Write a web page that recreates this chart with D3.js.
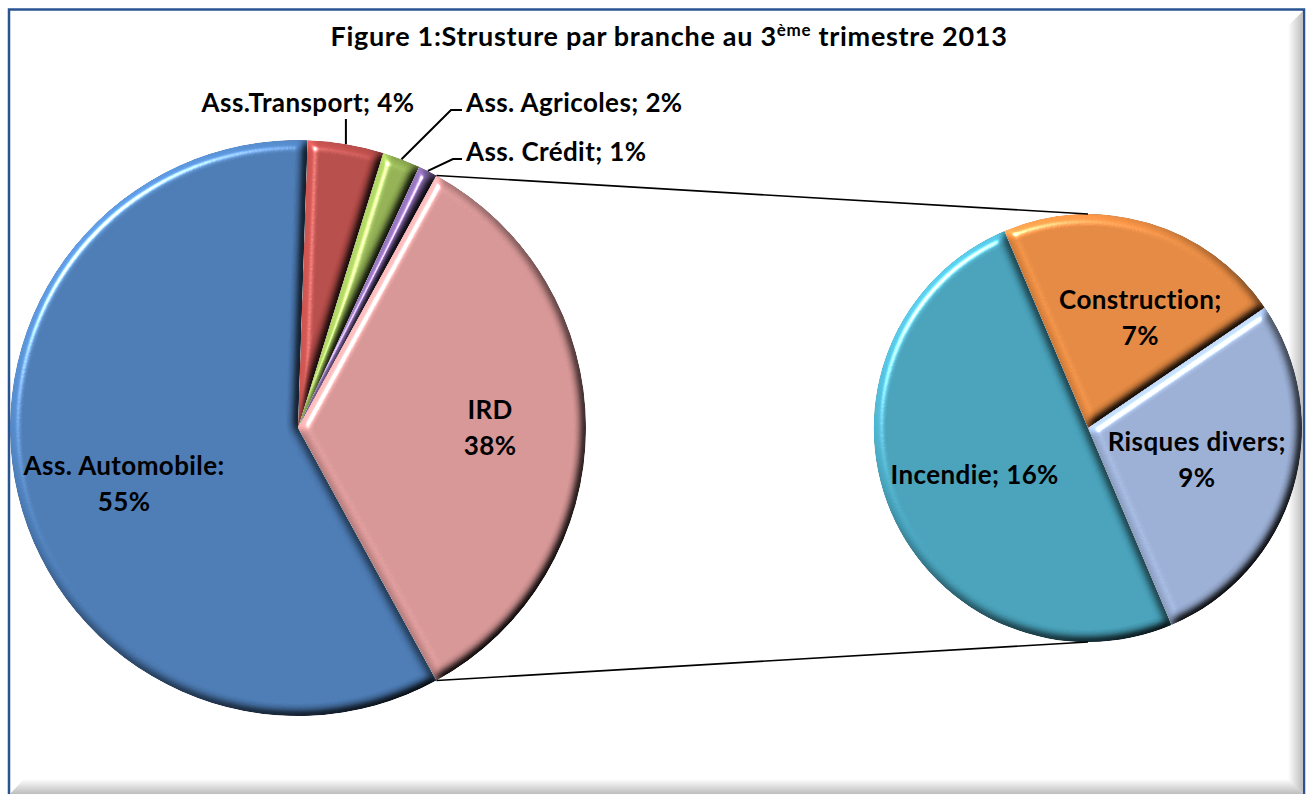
<!DOCTYPE html>
<html>
<head>
<meta charset="utf-8">
<script src="https://cdn.jsdelivr.net/npm/d3@7"></script>
<style>
html,body{margin:0;padding:0;background:#fff;}
svg{display:block;}
text{font-family:Lato,"Open Sans",sans-serif;font-weight:700;fill:#000;}
</style>
</head>
<body>
<svg id="chart" width="1308" height="794"></svg>
<script>
// ---- data ----
const mainCategories = ["Ass.Transport", "Ass. Agricoles", "Ass. Crédit", "IRD", "Ass. Automobile"];
const mainValues     = [4, 2, 1, null, 55];           // IRD = sum of the secondary pie
const mainLabels     = ["Ass.Transport; 4%", "Ass. Agricoles; 2%", "Ass. Crédit; 1%", ["IRD", "38%"], ["Ass. Automobile:", "55%"]];
const subCategories  = ["Construction", "Risques divers", "Incendie"];
const subValues      = [7, 9, 16];
const subLabels      = [["Construction;", "7%"], ["Risques divers;", "9%"], ["Incendie; 16%"]];
const mainColors     = ["#C0504D", "#9BBB59", "#8064A2", "#E39E9E", "#4F81BD"];
const subColors      = ["#F09045", "#A3B8E0", "#4BAAC4"];
const titleParts     = ["Figure 1:Strusture par branche au 3", "ème", " trimestre 2013"];

const W = 1308, H = 794;
const svg = d3.select("#chart");
const defs = svg.append("defs");

// bevel filter
const f = defs.append("filter").attr("id","bevel")
  .attr("x","-5%").attr("y","-5%").attr("width","110%").attr("height","110%")
  .attr("color-interpolation-filters","sRGB");
f.append("feGaussianBlur").attr("in","SourceAlpha").attr("stdDeviation",5).attr("result","blur");
const dl = f.append("feDiffuseLighting").attr("in","blur").attr("surfaceScale",6)
  .attr("diffuseConstant",1).attr("lighting-color","#fff").attr("result","diff");
dl.append("feDistantLight").attr("azimuth",225).attr("elevation",50);
f.append("feComposite").attr("in","SourceGraphic").attr("in2","diff").attr("operator","arithmetic")
  .attr("k1",1.22).attr("k2",0).attr("k3",0).attr("k4",0).attr("result","lit");
const sl = f.append("feSpecularLighting").attr("in","blur").attr("surfaceScale",6)
  .attr("specularConstant",0.8).attr("specularExponent",60).attr("lighting-color","#fff").attr("result","spec");
sl.append("feDistantLight").attr("azimuth",225).attr("elevation",50);
f.append("feComposite").attr("in","spec").attr("in2","SourceAlpha").attr("operator","in").attr("result","specIn");
f.append("feComposite").attr("in","lit").attr("in2","specIn").attr("operator","arithmetic")
  .attr("k1",0).attr("k2",1).attr("k3",1).attr("k4",0).attr("result","sum");
f.append("feComposite").attr("in","sum").attr("in2","SourceAlpha").attr("operator","in");

// frame gradients
const gR = defs.append("linearGradient").attr("id","gR").attr("x1",0).attr("x2",1).attr("y1",0).attr("y2",0);
gR.append("stop").attr("offset",0).attr("stop-color","#ffffff");
gR.append("stop").attr("offset",1).attr("stop-color","#bdbdbd");
const gB = defs.append("linearGradient").attr("id","gB").attr("x1",0).attr("x2",0).attr("y1",0).attr("y2",1);
gB.append("stop").attr("offset",0).attr("stop-color","#ffffff");
gB.append("stop").attr("offset",1).attr("stop-color","#bdbdbd");

// frame
svg.append("rect").attr("x",9).attr("y",9.5).attr("width",1295).attr("height",800)
  .attr("fill","#fff").attr("stroke","#2A5491").attr("stroke-width",2.5);
svg.append("polygon").attr("points","1288,26 1303,11 1303,794 1288,780").attr("fill","url(#gR)");
svg.append("polygon").attr("points","24,779 1288,779 1303,794 10,794").attr("fill","url(#gB)");

// title
const title = svg.append("text").attr("x", W/2 + 15).attr("y", 46).attr("text-anchor","middle")
  .style("font-size","27px").style("letter-spacing","0.7px");
title.append("tspan").text(titleParts[0]);
title.append("tspan").attr("dy",-10).style("font-size","17px").text(titleParts[1]);
title.append("tspan").attr("dy",10).text(titleParts[2]);

// ---- main pie ----
const subTotal = d3.sum(subValues);
const mVals = mainValues.map(v => v === null ? subTotal : v);
const total = d3.sum(mVals);
const iIRD = 3;
// rotate so the "other" slice is centred on 3 o'clock (as Excel does)
const before = d3.sum(mVals.slice(0, iIRD)) / total * 2 * Math.PI;
const irdSpan = mVals[iIRD] / total * 2 * Math.PI;
const start = Math.PI/2 - irdSpan/2 - before;

const m = {cx: 298, cy: 428, r: 288};
const s = {cx: 1088, cy: 428, r: 214};

const pieMain = d3.pie().sort(null).value(d => d).startAngle(start).endAngle(start + 2*Math.PI);
const arcsMain = pieMain(mVals);
const arcM = d3.arc().innerRadius(0).outerRadius(m.r);

const gm = svg.append("g").attr("transform",`translate(${m.cx},${m.cy})`);
gm.selectAll("path").data(arcsMain).join("path")
  .attr("d", arcM).attr("fill",(d,i)=>mainColors[i]).attr("filter","url(#bevel)");

// ---- secondary pie ----
const subStart = -23 * Math.PI/180;
const pieSub = d3.pie().sort(null).value(d => d).startAngle(subStart).endAngle(subStart + 2*Math.PI);
const arcsSub = pieSub(subValues);
const arcS = d3.arc().innerRadius(0).outerRadius(s.r);
const gs = svg.append("g").attr("transform",`translate(${s.cx},${s.cy})`);
gs.selectAll("path").data(arcsSub).join("path")
  .attr("d", arcS).attr("fill",(d,i)=>subColors[i]).attr("filter","url(#bevel)");

// ---- connector lines ----
const pol = (c, a, r) => [c.cx + r*Math.sin(a), c.cy - r*Math.cos(a)];
const ird = arcsMain[iIRD];
const p1 = pol(m, ird.startAngle, m.r), p2 = pol(m, ird.endAngle, m.r);
svg.append("line").attr("x1",p1[0]).attr("y1",p1[1]).attr("x2",s.cx).attr("y2",s.cy - s.r)
  .attr("stroke","#000").attr("stroke-width",1.6);
svg.append("line").attr("x1",p2[0]).attr("y1",p2[1]).attr("x2",s.cx).attr("y2",s.cy + s.r)
  .attr("stroke","#000").attr("stroke-width",1.6);

// ---- labels ----
const FS = 26;
function multi(x, y, lines, anchor){
  const arr = Array.isArray(lines) ? lines : [lines];
  const lh = 36;
  const t = svg.append("text").attr("text-anchor", anchor || "middle")
    .style("font-size", FS + "px").style("letter-spacing","0.4px");
  arr.forEach((ln, k) => {
    t.append("tspan").attr("x", x).attr("y", y + (k - (arr.length-1)/2) * lh + FS*0.35).text(ln);
  });
}
const mid = d => (d.startAngle + d.endAngle)/2;
// inside labels: radius fraction + nudge
const insideMain = {3: {f: 0.667, dx: 0, dy: 0}, 4: {f: 0.635, dx: 4, dy: 14}};
Object.entries(insideMain).forEach(([i, o]) => {
  const p = pol(m, mid(arcsMain[i]), m.r * o.f);
  multi(p[0] + o.dx, p[1] + o.dy, mainLabels[i]);
});
const insideSub = [{f: 0.57, dx: 18, dy: 7}, {f: 0.53, dx: 0, dy: 0}, {f: 0.56, dx: -3, dy: 0}];
arcsSub.forEach((d, i) => {
  const o = insideSub[i];
  const p = pol(s, mid(d), s.r * o.f);
  multi(p[0] + o.dx, p[1] + o.dy, subLabels[i]);
});

// outside labels with leader lines (Transport, Agricoles, Crédit)
const lead = d3.line();
{ // Transport
  const e = pol(m, mid(arcsMain[0]), m.r);
  svg.append("path").attr("d", lead([[e[0], e[1]], [e[0], 119]])).attr("stroke","#000").attr("stroke-width",2).attr("fill","none");
  multi(308, 103, mainLabels[0]);
}
{ // Agricoles
  const e = pol(m, mid(arcsMain[1]), m.r);
  svg.append("path").attr("d", lead([e, [451, 110], [462, 110]])).attr("stroke","#000").attr("stroke-width",2).attr("fill","none");
  multi(466, 103, mainLabels[1], "start");
}
{ // Crédit
  const e = pol(m, mid(arcsMain[2]), m.r);
  svg.append("path").attr("d", lead([e, [453, 159], [462, 159]])).attr("stroke","#000").attr("stroke-width",2).attr("fill","none");
  multi(466, 152, mainLabels[2], "start");
}
</script>
</body>
</html>
